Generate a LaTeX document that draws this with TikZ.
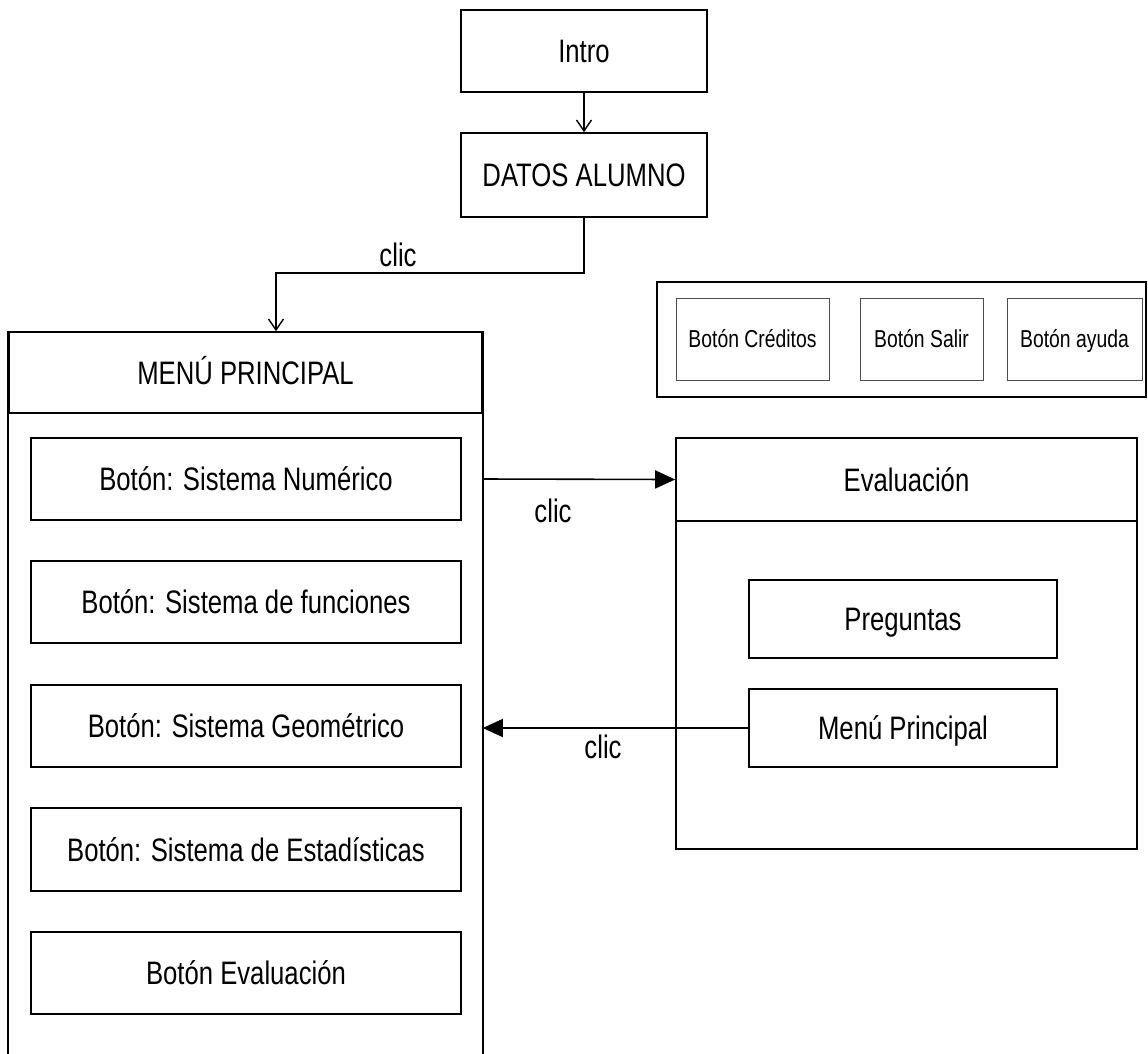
\documentclass[tikz,border=0pt]{standalone}
\usepackage{fontspec}
\setmainfont{Liberation Sans}[FakeStretch=0.79]
\usetikzlibrary{arrows.meta}

\tikzset{
  big/.style={text height=23.3pt, text depth=0pt, font=\fontsize{32.5}{38}\selectfont},
  small/.style={text height=17.5pt, text depth=0pt, font=\fontsize{24.5}{29}\selectfont},
  box/.style={draw, line width=1.6pt, inner sep=0pt, align=center, big},
  thinbox/.style={draw, line width=1.2pt, inner sep=0pt, align=center, big},
  smallbox/.style={draw=black!70, line width=1pt, inner sep=0pt, align=center, small},
  lbl/.style={inner sep=0pt, big},
  barb/.style={line width=1.4pt, -{Straight Barb[length=11pt,width=15pt,line width=1.4pt]}},
  tri/.style={line width=1.6pt, -{Triangle[length=20pt,width=18pt]}},
  wire/.style={line width=1.6pt}
}

\begin{document}
\begin{tikzpicture}[x=1pt,y=-1pt]
\useasboundingbox (0,0) rectangle (1148,1053);

% start screens
\node[box, minimum width=246pt, minimum height=82pt] (intro) at (584,51) {Intro};
\node[box, minimum width=246pt, minimum height=84pt] (datos) at (584,175) {DATOS ALUMNO};

% main menu: header and open-bottomed body
\node[box, minimum width=473pt, minimum height=81pt] (menuhead) at (245.5,372.5) {MENÚ PRINCIPAL};
\draw[wire] (menuhead.north west) -- ++(0,725);
\draw[wire] (menuhead.north east) -- ++(0,725);

\node[box, minimum width=430pt, minimum height=82pt] (num) at (246,479) {Botón: Sistema Numérico};
\node[box, minimum width=430pt, minimum height=82pt] (fun) at (246,602) {Botón: Sistema de funciones};
\node[box, minimum width=430pt, minimum height=82pt] (geo) at (246,726) {Botón: Sistema Geométrico};
\node[box, minimum width=430pt, minimum height=83pt] (est) at (246,849.5) {Botón: Sistema de Estadísticas};
\node[box, minimum width=430pt, minimum height=82pt] (bev) at (246,973) {Botón Evaluación};

% global buttons
\node[box, minimum width=489pt, minimum height=115pt] (group) at (901.5,339.5) {};
\node[smallbox, minimum width=153pt, minimum height=82pt] (cred) at (752.5,339) {Botón Créditos};
\node[smallbox, minimum width=123pt, minimum height=82pt] (salir) at (921.5,339) {Botón Salir};
\node[smallbox, minimum width=135pt, minimum height=82pt] (ayuda) at (1074.5,339) {Botón ayuda};

% evaluation screen
\node[box, minimum width=461pt, minimum height=411pt] (evalbox) at (906.5,643.5) {};
\node[box, minimum width=461pt, minimum height=83pt] (evalhead) at (906.5,479.5) {Evaluación};
\node[thinbox, minimum width=308pt, minimum height=78pt] (preg) at (903,619) {Preguntas};
\node[thinbox, minimum width=308pt, minimum height=78pt] (mp) at (903,728) {Menú Principal};

% connectors
\coordinate (turn) at (276,273);
\draw[barb] (intro.south) -- (datos.north);
\draw[barb] (datos.south) |- (turn) -- (turn |- menuhead.north);
\node[lbl] (c1) at (398,255) {clic};

\draw[tri] (num.east -| menuhead.east) -- (evalhead.west);
\node[lbl] (c2) at (553,511) {clic};

\draw[tri] (mp.west) -- (mp.west -| menuhead.east);
\node[lbl] (c3) at (603,747) {clic};
\end{tikzpicture}
\end{document}
